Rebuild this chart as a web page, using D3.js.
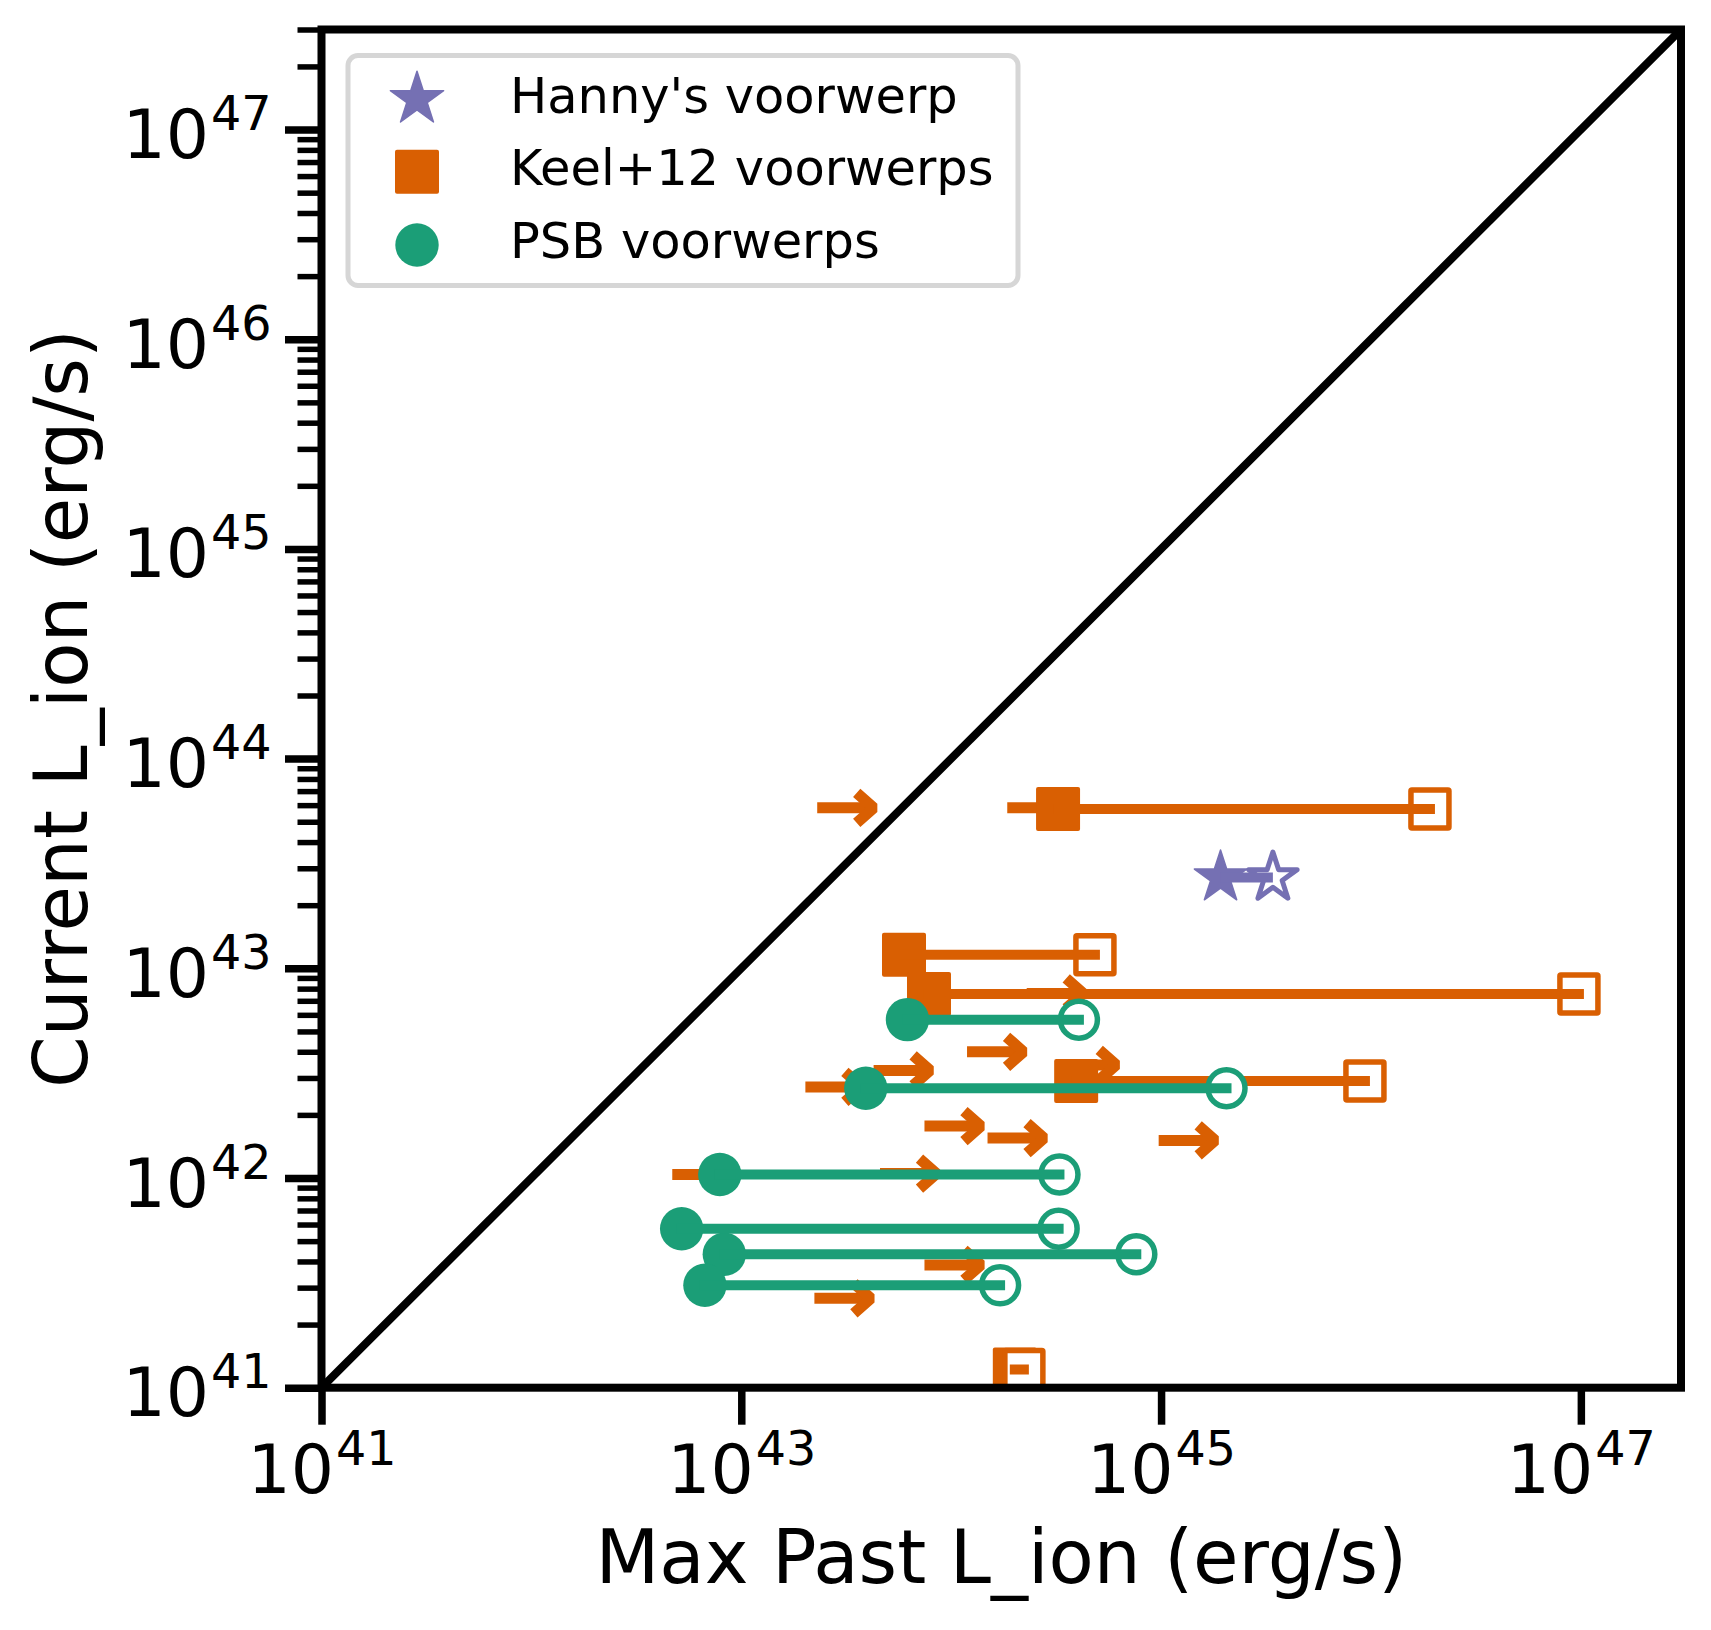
<!DOCTYPE html>
<html>
<head>
<meta charset="utf-8">
<script src="https://d3js.org/d3.v7.min.js"></script>
<style>
  body { margin: 0; background: #fff; }
  text { font-family: "DejaVu Sans", sans-serif; }
</style>
</head>
<body>
<div id="chart"></div>
<script>
// tick values
var xTicks = [1e41, 1e43, 1e45, 1e47];
var yTicks = [1e41, 1e42, 1e43, 1e44, 1e45, 1e46, 1e47];

// lower limits on the max past luminosity (arrows)
var limitX = [2.30e43, 1.85e44, 2.29e44, 1.19e44, 4.27e43, 3.29e44, 2.02e43,
              7.46e43, 1.49e44, 9.74e44, 4.69e42, 4.58e43, 7.46e43, 2.23e43];
var limitY = [5.83e43, 5.83e43, 7.59e42, 4.00e42, 3.26e42, 3.46e42, 2.72e42,
              1.77e42, 1.55e42, 1.51e42, 1.04e42, 1.05e42, 3.85e41, 2.67e41];

// Keel+12 voorwerps
var keelY = [5.75e43, 1.16e43, 7.54e42, 2.90e42, 1.22e41];
var keelLow = [3.23e44, 5.96e43, 7.84e43, 3.94e44, 2.01e44];
var keelHigh = [1.91e46, 4.84e44, 9.79e46, 9.36e45, 2.22e44];

// PSB voorwerps
var psbY = [5.69e42, 2.68e42, 1.04e42, 5.73e41, 4.33e41, 3.08e41];
var psbLow = [6.19e43, 3.92e43, 7.90e42, 5.20e42, 8.30e42, 6.71e42];
var psbHigh = [4.06e44, 2.05e45, 3.28e44, 3.25e44, 7.62e44, 1.71e44];

// Hanny's voorwerp
var hannyY = [2.71e43];
var hannyLow = [1.92e45];
var hannyHigh = [3.41e45];

var legendNames = ["Hanny's voorwerp", "Keel+12 voorwerps", "PSB voorwerps"];

var purple = "#7570b3", orange = "#d95f02", teal = "#1b9e77";

var width = 1711;
var height = 1630;
var axLeft = 321.5, axRight = 1681, axTop = 29.5, axBottom = 1387.7;

var svg = d3
  .select("#chart")
  .append("svg")
  .attr("width", width)
  .attr("height", height)
  .attr("viewBox", "0 0 " + width + " " + height);

var x = d3.scaleLog().domain([1e41, 3e47]).range([axLeft, axRight]);
var y = d3.scaleLog().domain([1e41, 3e47]).range([axBottom, axTop]);

svg.append("defs")
  .append("clipPath")
  .attr("id", "plotclip")
  .append("rect")
  .attr("x", axLeft)
  .attr("y", axTop)
  .attr("width", axRight - axLeft)
  .attr("height", axBottom - axTop);

var plot = svg.append("g").attr("clip-path", "url(#plotclip)");

// one-to-one line
plot.append("line")
  .attr("x1", x(1e41)).attr("y1", y(1e41))
  .attr("x2", x(3e47)).attr("y2", y(3e47))
  .attr("stroke", "#000")
  .attr("stroke-width", 8);

function starPath(r) {
  var pts = [];
  for (var i = 0; i < 10; i++) {
    var rr = i % 2 === 0 ? r : r * 0.381966;
    var a = -Math.PI / 2 + i * Math.PI / 5;
    pts.push([rr * Math.cos(a), rr * Math.sin(a)]);
  }
  return "M" + pts.map(function (p) { return p[0].toFixed(2) + "," + p[1].toFixed(2); }).join("L") + "Z";
}

// lower limit arrows
var arrowLen = 56.5;
var limits = limitX.map(function (v, i) { return { x: v, y: limitY[i] }; });

plot.selectAll(".limit-line")
  .data(limits)
  .enter()
  .append("line")
  .attr("class", "limit-line")
  .attr("x1", function (d) { return x(d.x); })
  .attr("x2", function (d) { return x(d.x) + arrowLen - 3; })
  .attr("y1", function (d) { return y(d.y); })
  .attr("y2", function (d) { return y(d.y); })
  .attr("stroke", orange)
  .attr("stroke-width", 11);

plot.selectAll(".limit-head")
  .data(limits)
  .enter()
  .append("path")
  .attr("class", "limit-head")
  .attr("d", function (d) {
    var t = x(d.x) + arrowLen, cy = y(d.y);
    return "M" + (t - 17) + "," + (cy - 15) + "L" + t + "," + cy + "L" + (t - 17) + "," + (cy + 15);
  })
  .attr("fill", "none")
  .attr("stroke", orange)
  .attr("stroke-width", 11)
  .attr("stroke-linejoin", "bevel");

// pairs: filled = current estimate, open = max past
function drawPairs(cls, lows, highs, ys, color, shape, lineCap) {
  var rows = ys.map(function (v, i) { return { y: v, lo: lows[i], hi: highs[i] }; });
  var g = plot.append("g").attr("class", cls);

  if (shape === "square") {
    g.selectAll(".filled").data(rows).enter().append("rect")
      .attr("x", function (d) { return x(d.lo) - 22; })
      .attr("y", function (d) { return y(d.y) - 22; })
      .attr("width", 44).attr("height", 44).attr("rx", 2)
      .attr("fill", color);
    g.selectAll(".open").data(rows).enter().append("rect")
      .attr("x", function (d) { return x(d.hi) - 19; })
      .attr("y", function (d) { return y(d.y) - 19; })
      .attr("width", 38).attr("height", 38).attr("rx", 1)
      .attr("fill", "#fff").attr("stroke", color).attr("stroke-width", 5.5);
  } else if (shape === "circle") {
    g.selectAll(".filled").data(rows).enter().append("circle")
      .attr("cx", function (d) { return x(d.lo); })
      .attr("cy", function (d) { return y(d.y); })
      .attr("r", 21.7)
      .attr("fill", color);
    g.selectAll(".open").data(rows).enter().append("circle")
      .attr("cx", function (d) { return x(d.hi); })
      .attr("cy", function (d) { return y(d.y); })
      .attr("r", 18.5)
      .attr("fill", "#fff").attr("stroke", color).attr("stroke-width", 5.5);
  } else {
    g.selectAll(".filled").data(rows).enter().append("path")
      .attr("transform", function (d) { return "translate(" + x(d.lo) + "," + y(d.y) + ")"; })
      .attr("d", starPath(27.5))
      .attr("fill", color).attr("stroke", color).attr("stroke-width", 1.5)
      .attr("stroke-linejoin", "round");
    g.selectAll(".open").data(rows).enter().append("path")
      .attr("transform", function (d) { return "translate(" + x(d.hi) + "," + y(d.y) + ")"; })
      .attr("d", starPath(25.5))
      .attr("fill", "#fff").attr("stroke", color).attr("stroke-width", 5)
      .attr("stroke-linejoin", "round");
  }

  g.selectAll(".link").data(rows).enter().append("line")
    .attr("x1", function (d) { return x(d.lo); })
    .attr("x2", function (d) { return x(d.hi); })
    .attr("y1", function (d) { return y(d.y); })
    .attr("y2", function (d) { return y(d.y); })
    .attr("stroke", color)
    .attr("stroke-width", 10)
    .attr("stroke-linecap", lineCap);
}

drawPairs("keel", keelLow, keelHigh, keelY, orange, "square", "square");
drawPairs("psb", psbLow, psbHigh, psbY, teal, "circle", "square");
drawPairs("hanny", hannyLow, hannyHigh, hannyY, purple, "star", "butt");

// axes
function superLabels(sel, anchor, tx, ty) {
  sel.selectAll(".tick text").remove();
  sel.selectAll(".tick").each(function (d) {
    var t = d3.select(this).append("text")
      .attr("x", tx).attr("y", ty)
      .attr("text-anchor", anchor)
      .attr("font-size", 68)
      .attr("fill", "#000");
    t.append("tspan").text("10");
    t.append("tspan").attr("font-size", 47.6).attr("dx", 2).attr("dy", -28)
      .text(Math.round(Math.log10(d)));
  });
}

var gx = svg.append("g")
  .attr("transform", "translate(0," + axBottom + ")")
  .call(d3.axisBottom(x).tickValues(xTicks).tickSize(37).tickFormat(""));
gx.select(".domain").remove();
gx.selectAll(".tick line").attr("stroke", "#000").attr("stroke-width", 7.5);
superLabels(gx, "middle", 0, 105);

var yMinor = [];
yTicks.forEach(function (t) {
  for (var k = 2; k <= 9; k++) {
    if (k * t <= 3e47) yMinor.push(k * t);
  }
});

var gyMinor = svg.append("g")
  .attr("transform", "translate(" + axLeft + ",0)")
  .call(d3.axisLeft(y).tickValues(yMinor).tickSize(24).tickFormat(""));
gyMinor.select(".domain").remove();
gyMinor.selectAll(".tick line").attr("stroke", "#000").attr("stroke-width", 5.5);
gyMinor.selectAll(".tick text").remove();

var gy = svg.append("g")
  .attr("transform", "translate(" + axLeft + ",0)")
  .call(d3.axisLeft(y).tickValues(yTicks).tickSize(36.5).tickFormat(""));
gy.select(".domain").remove();
gy.selectAll(".tick line").attr("stroke", "#000").attr("stroke-width", 7.5);
superLabels(gy, "end", -50, 28);

// frame
svg.append("rect")
  .attr("x", axLeft).attr("y", axTop)
  .attr("width", axRight - axLeft).attr("height", axBottom - axTop)
  .attr("fill", "none")
  .attr("stroke", "#000")
  .attr("stroke-width", 8);

// axis titles
svg.append("text")
  .attr("x", (axLeft + axRight) / 2)
  .attr("y", 1583)
  .attr("text-anchor", "middle")
  .attr("font-size", 74)
  .text("Max Past L_ion (erg/s)");

svg.append("text")
  .attr("transform", "translate(86.7," + (axTop + axBottom) / 2 + ") rotate(-90)")
  .attr("text-anchor", "middle")
  .attr("font-size", 74)
  .text("Current L_ion (erg/s)");

// legend
var legend = svg.append("g");
legend.append("rect")
  .attr("x", 348).attr("y", 55.5)
  .attr("width", 670).attr("height", 230)
  .attr("rx", 10)
  .attr("fill", "#fff")
  .attr("stroke", "#d6d6d6")
  .attr("stroke-width", 5);

var legendY = [113.3, 185, 258.3];
legend.append("path")
  .attr("transform", "translate(417," + (legendY[0] - 14) + ")")
  .attr("d", starPath(28))
  .attr("fill", purple).attr("stroke", purple).attr("stroke-width", 1.5)
  .attr("stroke-linejoin", "round");
legend.append("rect")
  .attr("x", 395).attr("y", legendY[1] - 13.3 - 22)
  .attr("width", 44).attr("height", 44).attr("rx", 2)
  .attr("fill", orange);
legend.append("circle")
  .attr("cx", 417).attr("cy", legendY[2] - 13.3)
  .attr("r", 21.7)
  .attr("fill", teal);

legend.selectAll(".legend-label")
  .data(legendNames)
  .enter()
  .append("text")
  .attr("class", "legend-label")
  .attr("x", 510)
  .attr("y", function (d, i) { return legendY[i]; })
  .attr("font-size", 49.5)
  .text(function (d) { return d; });
</script>
</body>
</html>
